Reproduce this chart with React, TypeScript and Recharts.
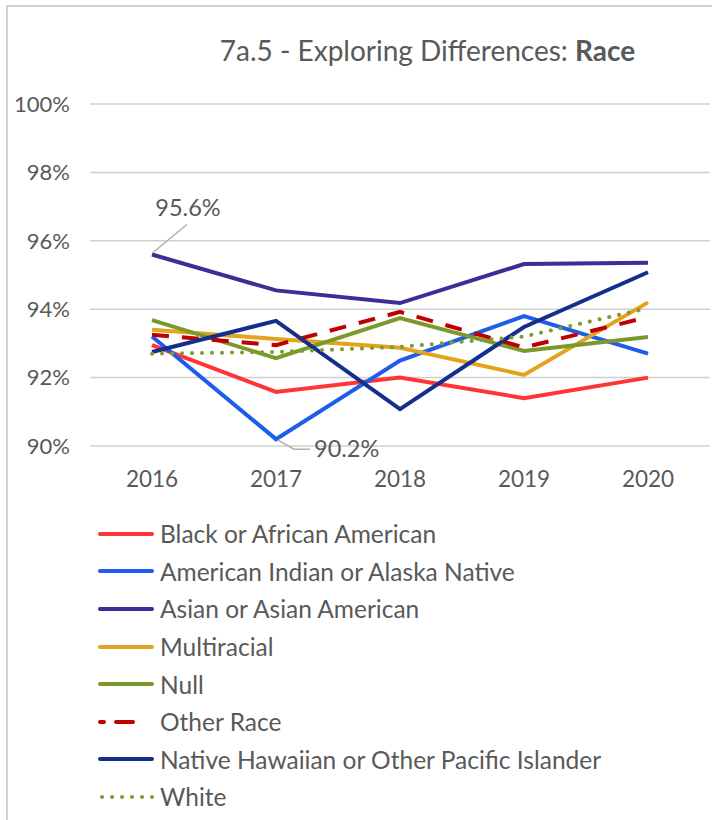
import { CartesianGrid, Legend, Line, LineChart, XAxis, YAxis } from 'recharts'

const years = ['2016', '2017', '2018', '2019', '2020']

const black = [92.95, 91.58, 92.0, 91.4, 92.0]
const amIndian = [93.2, 90.2, 92.5, 93.8, 92.7]
const asian = [95.6, 94.55, 94.18, 95.32, 95.36]
const multiracial = [93.4, 93.13, 92.87, 92.08, 94.2]
const nullRace = [93.68, 92.57, 93.74, 92.78, 93.19]
const otherRace = [93.25, 92.95, 93.92, 92.88, 93.77]
const hawaiian = [92.75, 93.66, 91.08, 93.48, 95.08]
const white = [92.7, 92.75, 92.9, 93.2, 94.03]

const yTicks = [90, 92, 94, 96, 98, 100]

const series = [
  { key: 'black', name: 'Black or African American', color: '#ff3535', dash: undefined },
  { key: 'amIndian', name: 'American Indian or Alaska Native', color: '#1f5ceb', dash: undefined },
  { key: 'asian', name: 'Asian or Asian American', color: '#3f2c96', dash: undefined },
  { key: 'multiracial', name: 'Multiracial', color: '#e3a31c', dash: undefined },
  { key: 'nullRace', name: 'Null', color: '#7b992b', dash: undefined },
  { key: 'otherRace', name: 'Other Race', color: '#c00000', dash: '17 13' },
  { key: 'hawaiian', name: 'Native Hawaiian or Other Pacific Islander', color: '#132e8c', dash: undefined },
  { key: 'white', name: 'White', color: '#7f9c30', dash: '0.1 9.9' },
]

const data = years.map((year, i) => ({
  year,
  black: black[i],
  amIndian: amIndian[i],
  asian: asian[i],
  multiracial: multiracial[i],
  nullRace: nullRace[i],
  otherRace: otherRace[i],
  hawaiian: hawaiian[i],
  white: white[i],
}))

const FONT = 'Lato, "DejaVu Sans", sans-serif'
const TEXT = '#595959'

function AsianLabel(props: any) {
  const { x, y, index, value } = props
  if (index !== 0) return null
  return (
    <g>
      <line x1={x + 1} y1={y - 2} x2={x + 35} y2={y - 30} stroke="#b0b0b0" strokeWidth={1.5} />
      <text x={x + 36} y={y - 38} textAnchor="middle" fill={TEXT} fontSize={23.5} fontFamily={FONT}>
        {value}%
      </text>
    </g>
  )
}

function IndianLabel(props: any) {
  const { x, y, index, value } = props
  if (index !== 1) return null
  return (
    <g>
      <polyline
        points={`${x + 2},${y + 1} ${x + 18},${y + 10} ${x + 34},${y + 10}`}
        fill="none"
        stroke="#b0b0b0"
        strokeWidth={1.5}
      />
      <text x={x + 38} y={y + 18} textAnchor="start" fill={TEXT} fontSize={23.5} fontFamily={FONT}>
        {value}%
      </text>
    </g>
  )
}

function LegendBox() {
  return (
    <div style={{ height: 301, fontFamily: FONT }}>
      {series.map((s) => (
        <div key={s.key} style={{ height: 37.6, display: 'flex', alignItems: 'center' }}>
          <svg width={60} height={10} style={{ marginRight: 2 }}>
            <line
              x1={s.key === 'white' ? 4 : 2}
              y1={5}
              x2={54}
              y2={5}
              stroke={s.color}
              strokeWidth={4}
              strokeDasharray={s.key === 'otherRace' ? '4 12 17 30' : s.dash}
              strokeLinecap="round"
            />
          </svg>
          <span style={{ fontSize: 24.5, color: TEXT }}>{s.name}</span>
        </div>
      ))}
    </div>
  )
}

export default function App() {
  return (
    <div style={{ position: 'absolute', left: 0, top: 0, width: 712, height: 820, background: '#fff', overflow: 'hidden' }}>
      <div
        style={{
          position: 'absolute',
          left: 6,
          top: 5,
          width: 730,
          height: 840,
          border: '2px solid #d0d0d0',
        }}
      />
      <div
        style={{
          position: 'absolute',
          left: 0,
          top: 33,
          width: 712,
          paddingLeft: 143,
          boxSizing: 'border-box',
          textAlign: 'center',
          fontFamily: FONT,
          fontSize: 28,
          color: TEXT,
        }}
      >
        7a.5 - Exploring Differences: <b>Race</b>
      </div>
      <LineChart
        width={712}
        height={820}
        data={data}
        margin={{ top: 104, right: 2, bottom: 33, left: 8 }}
        style={{ position: 'absolute', left: 0, top: 0 }}
      >
        <CartesianGrid vertical={false} stroke="#d0d0d0" strokeWidth={1.5} />
        <XAxis
          dataKey="year"
          axisLine={false}
          tickLine={false}
          tickSize={10}
          tickMargin={15}
          height={40}
          padding={{ left: 62, right: 62 }}
          tick={{ fill: TEXT, fontSize: 22.5, fontFamily: FONT }}
        />
        <YAxis
          domain={[90, 100]}
          ticks={yTicks}
          axisLine={false}
          tickLine={false}
          tickSize={10}
          tickMargin={10}
          width={82}
          tickFormatter={(v: number) => `${v}%`}
          tick={{ fill: TEXT, fontSize: 22, fontFamily: FONT }}
        />
        {series.map((s) => (
          <Line
            key={s.key}
            dataKey={s.key}
            name={s.name}
            type="linear"
            stroke={s.color}
            strokeWidth={4}
            strokeDasharray={s.dash}
            strokeLinecap={s.key === 'white' ? 'round' : 'butt'}
            dot={false}
            activeDot={false}
            isAnimationActive={false}
            label={s.key === 'asian' ? AsianLabel : s.key === 'amIndian' ? IndianLabel : undefined}
          />
        ))}
        <Legend
          layout="vertical"
          verticalAlign="bottom"
          align="center"
          content={() => <LegendBox />}
          wrapperStyle={{ position: 'absolute', left: 98, top: 515, bottom: 'auto', width: 600 }}
        />
      </LineChart>
    </div>
  )
}
